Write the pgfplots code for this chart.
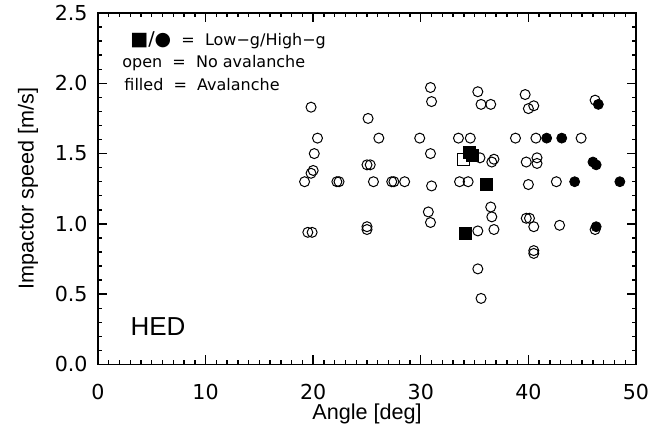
\documentclass[border=0pt]{standalone}
\usepackage{pgfplots}
\pgfplotsset{compat=1.18}
\usepackage{fontspec}
\setmainfont{Liberation Sans}
\newfontfamily\dejavu{DejaVu Sans}
\begin{document}
\begin{tikzpicture}
\useasboundingbox (-49pt,-36.25pt) rectangle (276pt,182.25pt);
\begin{axis}[
  at={(0,0)}, anchor=south west,
  scale only axis, width=269pt, height=175.75pt,
  xmin=0, xmax=50, ymin=0, ymax=2.5,
  xtick={0,10,20,30,40,50}, minor x tick num=9,
  ytick={0,0.5,1,1.5,2,2.5}, minor y tick num=4,
  yticklabels={0.0,0.5,1.0,1.5,2.0,2.5},
  tick align=inside,
  major tick length=4.5pt, minor tick length=2.2pt,
  axis line style={line width=0.9pt},
  every tick/.style={black, line width=0.7pt},
  /pgf/number format/assume math mode=true,
  ticklabel style={font=\dejavu\fontsize{10.3}{12}\selectfont, inner sep=0pt},
  xticklabel style={yshift=-9.8pt},
  yticklabel style={xshift=-5pt},
  xlabel={Angle [deg]}, ylabel={Impactor speed [m/s]},
  label style={font=\fontsize{10.8}{13}\selectfont, inner sep=0pt},
  xlabel style={at={(axis description cs:0.5,-0.141)}, anchor=center},
  ylabel style={at={(axis description cs:-0.130,0.5)}, anchor=center},
]
% open circles: high-g, no avalanche
\addplot[only marks, mark=o, mark size=2.5pt, mark options={line width=0.5pt, black}] coordinates {
(19.2,1.30) (19.8,1.36) (20.0,1.38) (19.8,1.83) (20.4,1.61) (20.1,1.50) (19.5,0.94) (19.9,0.94)
(22.2,1.30) (22.4,1.30)
(25.1,1.75) (25.0,1.42) (25.3,1.42) (25.6,1.30) (26.1,1.61) (25.0,0.98) (25.0,0.96)
(27.3,1.30) (27.5,1.30) (28.5,1.30) (29.9,1.61)
(30.9,1.97) (31.0,1.87) (30.9,1.50) (31.0,1.27) (30.7,1.085) (30.9,1.01)
(33.5,1.61) (34.6,1.61) (33.6,1.30) (34.4,1.30)
(35.3,1.94) (35.6,1.85) (36.5,1.85) (35.5,1.47) (36.6,1.44) (36.8,1.46)
(35.3,0.95) (35.3,0.68) (35.6,0.47) (36.5,1.12) (36.6,1.05) (36.8,0.96)
(38.8,1.61) (39.7,1.92) (40.0,1.82) (40.5,1.84) (40.7,1.61) (39.8,1.44) (40.8,1.47) (40.8,1.43)
(40.0,1.28) (42.6,1.30) (39.8,1.04) (40.1,1.04) (40.5,0.98) (40.5,0.81) (40.5,0.79) (42.9,0.99)
(44.9,1.61) (46.2,1.88) (46.2,0.96)
};
% open square: low-g, no avalanche
\addplot[only marks, mark=square, mark size=3pt, mark options={line width=0.5pt, black}] coordinates {
(34.0,1.46)
};
% filled squares: low-g, avalanche
\addplot[only marks, mark=square*, mark size=3pt, mark options={black, fill=black}] coordinates {
(34.5,1.51) (34.8,1.49) (36.1,1.28) (34.1,0.93)
};
% filled circles: high-g, avalanche
\addplot[only marks, mark=*, mark size=2.5pt, mark options={black, fill=black}] coordinates {
(41.7,1.61) (43.1,1.61) (46.5,1.85) (46.0,1.44) (46.3,1.42) (44.3,1.30) (48.5,1.30) (46.3,0.98)
};
\node[anchor=west, inner sep=0pt, font=\dejavu\fontsize{8}{9}\selectfont] at (axis cs:2.97,2.308) {{\fontsize{9.5}{9}\selectfont ■/●}\ \ =\ \ Low−g/High−g};
\node[anchor=west, inner sep=0pt, font=\dejavu\fontsize{8}{9}\selectfont] at (axis cs:2.23,2.144) {open\ \ =\ \ No avalanche};
\node[anchor=west, inner sep=0pt, font=\dejavu\fontsize{8}{9}\selectfont] at (axis cs:2.42,1.988) {filled\ \ =\ \ Avalanche};
\node[font=\fontsize{13}{15}\selectfont] at (axis cs:5.58,0.27) {HED};
\end{axis}
\end{tikzpicture}
\end{document}
